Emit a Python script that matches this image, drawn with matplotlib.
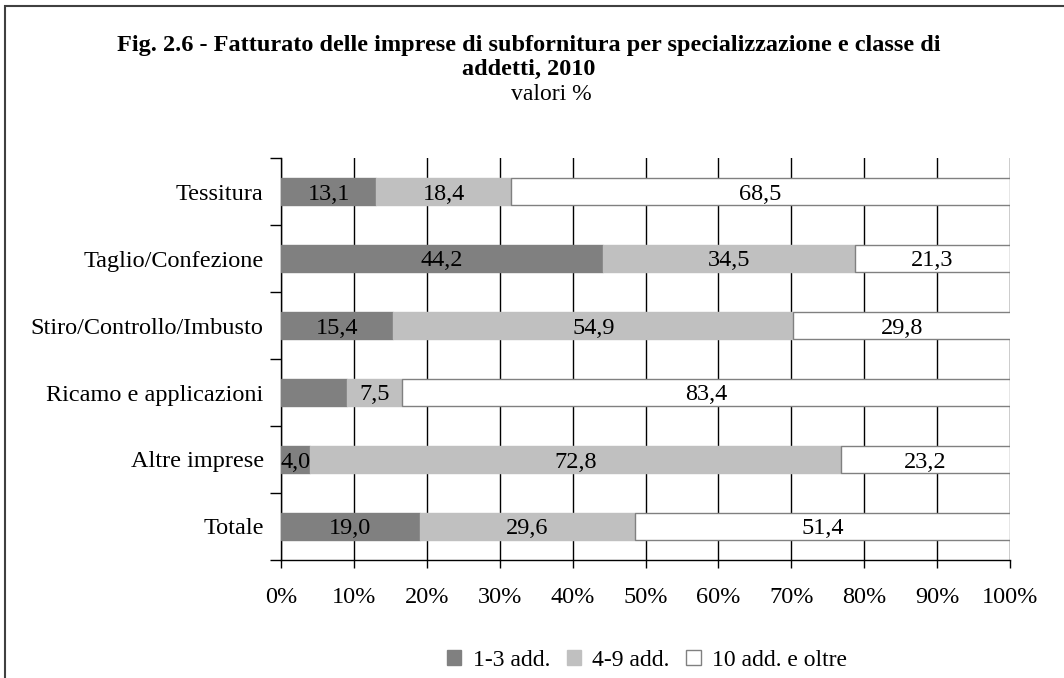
import numpy as np
import matplotlib
matplotlib.use("Agg")
import matplotlib.pyplot as plt
from matplotlib.patches import Rectangle

plt.rcParams['font.family'] = ['Liberation Serif', 'DejaVu Serif']

categories = ["Tessitura", "Taglio/Confezione", "Stiro/Controllo/Imbusto",
              "Ricamo e applicazioni", "Altre imprese", "Totale"]
small = [13.1, 44.2, 15.4, 9.1, 4.0, 19.0]     # 1-3 add.
medium = [18.4, 34.5, 54.9, 7.5, 72.8, 29.6]   # 4-9 add.
large = [68.5, 21.3, 29.8, 83.4, 23.2, 51.4]   # 10 add. e oltre
series_names = ["1-3 add.", "4-9 add.", "10 add. e oltre"]
# labels hidden in the original chart
hidden = {(3, 0)}

fs = 17.5

fig = plt.figure(figsize=(10.64, 6.78), dpi=100)
ax = fig.add_axes([281 / 1064, 1 - 560 / 678, (1010 - 281) / 1064, (560 - 158) / 678])

y = np.arange(len(categories))
colors = ["#808080", "#c0c0c0", "#ffffff"]
edges = ["#808080", "#c0c0c0", "#808080"]
left = np.zeros(len(categories))
for k, vals in enumerate([small, medium, large]):
    vals = np.array(vals)
    ax.barh(y, vals, left=left, height=0.4, color=colors[k], edgecolor=edges[k],
            linewidth=1.0, label=series_names[k], zorder=3)
    for i, v in enumerate(vals):
        if (i, k) in hidden:
            continue
        ax.text(left[i] + v / 2, y[i], f"{v:.1f}".replace(".", ","),
                ha="center", va="center_baseline", fontsize=fs, zorder=4)
    left += vals

ax.set_xlim(0, 100)
ax.set_ylim(len(categories) - 0.5, -0.5)
ax.set_xticks(np.arange(0, 101, 10))
ax.set_xticklabels([f"{t}%" for t in range(0, 101, 10)], fontsize=fs)
ax.tick_params(axis="x", direction="out", length=6, width=1, pad=13.5)
ax.xaxis.grid(True, color="black", linewidth=1, zorder=0)

ax.set_yticks(np.arange(-0.5, len(categories), 1))
ax.set_yticklabels([])
ax.set_yticks(y, minor=True)
ax.set_yticklabels(categories, minor=True, fontsize=fs)
ax.tick_params(axis="y", which="major", direction="out", length=8, width=1)
ax.tick_params(axis="y", which="minor", length=0, pad=12.5)

for s in ["top", "right"]:
    ax.spines[s].set_visible(False)
for s in ["left", "bottom"]:
    ax.spines[s].set_linewidth(1)

fig.text(529 / 1064, 1 - 45 / 678, "Fig. 2.6 - Fatturato delle imprese di subfornitura per specializzazione e classe di",
         ha="center", va="center", fontsize=17.5, fontweight="bold")
fig.text(529 / 1064, 1 - 69 / 678, "addetti, 2010", ha="center", va="center",
         fontsize=17.5, fontweight="bold")
fig.text(551 / 1064, 1 - 94 / 678, "valori %", ha="center", va="center", fontsize=17)

fig.legend(loc="center", bbox_to_anchor=(647 / 1064, 1 - 660 / 678), ncol=3, frameon=False,
           fontsize=17, handlelength=0.6, handleheight=0.6, handletextpad=0.5,
           columnspacing=0.7)

fig.patches.append(Rectangle((5 / 1064, -0.1), 1.2, 1.1 - 6 / 678, transform=fig.transFigure,
                             fill=False, edgecolor="#404040", linewidth=1.5))

fig.savefig("out.png", dpi=100)
